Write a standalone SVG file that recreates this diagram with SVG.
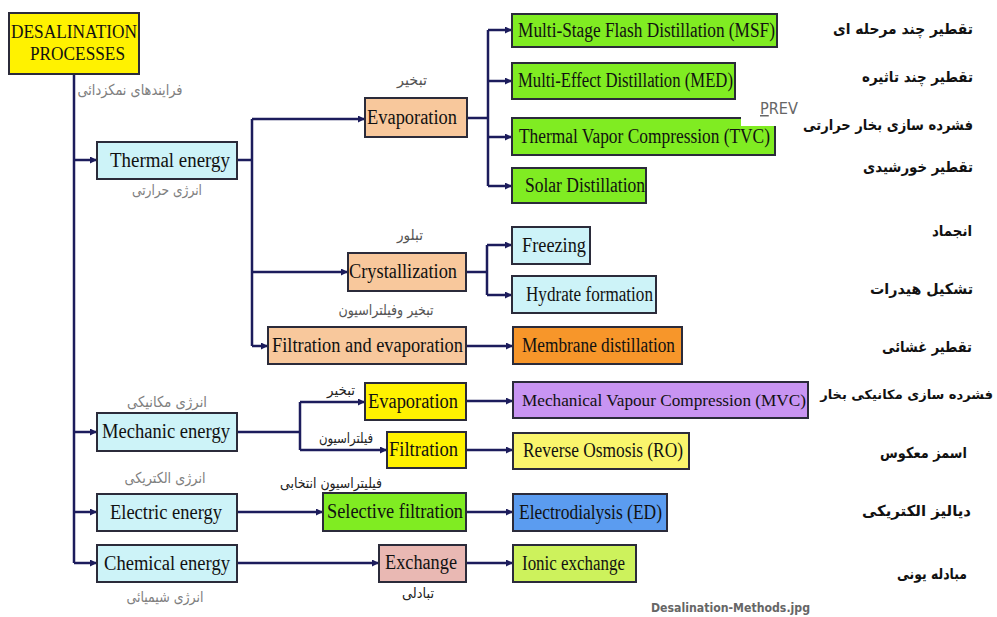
<svg xmlns="http://www.w3.org/2000/svg" width="997" height="617" viewBox="0 0 997 617">
<defs>
<marker id="ah" markerWidth="8" markerHeight="8" refX="7" refY="3.5" orient="auto" markerUnits="userSpaceOnUse">
<path d="M0,0 L7,3.5 L0,7 z" fill="#1c1c5c"/>
</marker>
<style>
.box{stroke:#2b2b3a;stroke-width:2}
.t{font-family:"Liberation Serif","Times New Roman",serif;font-size:20px;fill:#111}
.fa{font-family:"DejaVu Sans",sans-serif;font-size:15px;fill:#808080;text-anchor:middle}
.fb{font-family:"DejaVu Sans",sans-serif;font-size:14px;fill:#222;text-anchor:middle}
.fr{font-family:"DejaVu Sans",sans-serif;font-size:15px;font-weight:bold;fill:#111;text-anchor:end}
.c{fill:none;stroke:#1c1c5c;stroke-width:2.5}
.a{marker-end:url(#ah)}
.cyan{fill:#cdf3f8}.peach{fill:#f8c89c}.green{fill:#80ec22}.yel{fill:#fff200}
</style>
</defs>
<rect width="997" height="617" fill="#fff"/>

<g id="connectors">
<path class="c" d="M74,74 V563"/>
<path class="c a" d="M74,160 H97"/>
<path class="c a" d="M74,432 H97"/>
<path class="c a" d="M74,512 H97"/>
<path class="c a" d="M74,563 H97"/>
<path class="c" d="M237,160 H252 M252,119 V346"/>
<path class="c a" d="M252,119 H365"/>
<path class="c a" d="M252,272 H348"/>
<path class="c a" d="M252,346 H268"/>
<path class="c" d="M467,118 H488 M488,30 V186"/>
<path class="c a" d="M488,30 H512"/>
<path class="c a" d="M488,81 H512"/>
<path class="c a" d="M488,137 H512"/>
<path class="c a" d="M488,186 H512"/>
<path class="c" d="M466,272 H487 M487,245 V295"/>
<path class="c a" d="M487,245 H512"/>
<path class="c a" d="M487,295 H512"/>
<path class="c a" d="M466,346 H513"/>
<path class="c" d="M237,432 H300 M300,402 V450"/>
<path class="c a" d="M300,402 H365"/>
<path class="c a" d="M300,450 H387"/>
<path class="c a" d="M466,401 H513"/>
<path class="c a" d="M466,450 H513"/>
<path class="c a" d="M237,512 H323"/>
<path class="c a" d="M466,512 H513"/>
<path class="c a" d="M237,563 H379"/>
<path class="c a" d="M466,563 H513"/>
</g>

<g id="desal">
<rect class="box yel" x="9" y="13" width="130" height="61"/>
<text class="t" x="11" y="38" textLength="126" lengthAdjust="spacingAndGlyphs" style="font-size:19px">DESALINATION</text>
<text class="t" x="30" y="60" textLength="95" lengthAdjust="spacingAndGlyphs" style="font-size:19px">PROCESSES</text>
<text class="fa" x="130" y="95" textLength="105" lengthAdjust="spacingAndGlyphs">فرایندهای نمکزدائی</text>
</g>

<g id="thermal">
<rect class="box cyan" x="97" y="142" width="140" height="37"/>
<text class="t" x="110" y="167" textLength="120" lengthAdjust="spacingAndGlyphs">Thermal energy</text>
<text class="fa" x="167" y="195" textLength="70" lengthAdjust="spacingAndGlyphs">انرژی حرارتی</text>
</g>

<g id="evap1">
<rect class="box peach" x="365" y="98" width="102" height="39"/>
<text class="t" x="367" y="124" textLength="90" lengthAdjust="spacingAndGlyphs">Evaporation</text>
<text class="fa" x="412" y="85" textLength="30" lengthAdjust="spacingAndGlyphs" style="fill:#555">تبخیر</text>
</g>

<g id="msf">
<rect class="box green" x="512" y="14" width="265" height="33"/>
<text class="t" x="518" y="37" textLength="257" lengthAdjust="spacingAndGlyphs">Multi-Stage Flash Distillation (MSF)</text>
</g>
<g id="med">
<rect class="box green" x="512" y="63" width="223" height="36"/>
<text class="t" x="518" y="87" textLength="215" lengthAdjust="spacingAndGlyphs">Multi-Effect Distillation (MED)</text>
</g>
<g id="tvc">
<rect class="box green" x="512" y="118" width="263" height="37"/>
<rect x="741" y="113" width="40" height="13" fill="#fff"/>
<text class="t" x="519" y="143" textLength="251" lengthAdjust="spacingAndGlyphs">Thermal Vapor Compression (TVC)</text>
</g>
<g id="solar">
<rect class="box green" x="512" y="168" width="134" height="35"/>
<text class="t" x="525" y="192" textLength="120" lengthAdjust="spacingAndGlyphs">Solar Distillation</text>
</g>

<g id="cryst">
<rect class="box peach" x="348" y="253" width="118" height="38"/>
<text class="t" x="349" y="278" textLength="108" lengthAdjust="spacingAndGlyphs">Crystallization</text>
<text class="fa" x="410" y="240" textLength="26" lengthAdjust="spacingAndGlyphs" style="fill:#555">تبلور</text>
</g>
<g id="freezing">
<rect class="box cyan" x="512" y="227" width="78" height="37"/>
<text class="t" x="522" y="252" textLength="64" lengthAdjust="spacingAndGlyphs">Freezing</text>
</g>
<g id="hydrate">
<rect class="box cyan" x="512" y="276" width="144" height="37"/>
<text class="t" x="526" y="301" textLength="127" lengthAdjust="spacingAndGlyphs">Hydrate formation</text>
</g>

<g id="filtevap">
<rect class="box peach" x="268" y="327" width="198" height="37"/>
<text class="t" x="272" y="352" textLength="191" lengthAdjust="spacingAndGlyphs">Filtration and evaporation</text>
<text class="fa" x="386" y="315" textLength="95" lengthAdjust="spacingAndGlyphs" style="fill:#555">تبخیر وفیلتراسیون</text>
</g>
<g id="membrane">
<rect class="box" x="513" y="327" width="169" height="37" fill="#f7962a"/>
<text class="t" x="522" y="352" textLength="153" lengthAdjust="spacingAndGlyphs">Membrane distillation</text>
</g>

<g id="mechanic">
<rect class="box cyan" x="97" y="413" width="140" height="38"/>
<text class="t" x="102" y="438" textLength="128" lengthAdjust="spacingAndGlyphs">Mechanic energy</text>
<text class="fa" x="167" y="407" textLength="80" lengthAdjust="spacingAndGlyphs">انرژی مکانیکی</text>
</g>
<g id="evap2">
<rect class="box yel" x="365" y="383" width="101" height="37"/>
<text class="t" x="368" y="408" textLength="90" lengthAdjust="spacingAndGlyphs">Evaporation</text>
<text class="fb" x="341" y="395" textLength="28" lengthAdjust="spacingAndGlyphs">تبخیر</text>
</g>
<g id="filt2">
<rect class="box yel" x="387" y="432" width="79" height="36"/>
<text class="t" x="389" y="456" textLength="69" lengthAdjust="spacingAndGlyphs">Filtration</text>
<text class="fb" x="346" y="443" textLength="54" lengthAdjust="spacingAndGlyphs">فیلتراسیون</text>
</g>
<g id="mvc">
<rect class="box" x="513" y="382" width="295" height="36" fill="#c894f2"/>
<text class="t" x="522" y="406" textLength="284" lengthAdjust="spacingAndGlyphs" style="font-size:17.5px">Mechanical Vapour Compression (MVC)</text>
</g>
<g id="ro">
<rect class="box" x="513" y="433" width="176" height="36" fill="#faf56c"/>
<text class="t" x="523" y="457" textLength="160" lengthAdjust="spacingAndGlyphs">Reverse Osmosis (RO)</text>
</g>

<g id="electric">
<rect class="box cyan" x="97" y="494" width="140" height="37"/>
<text class="t" x="110" y="519" textLength="112" lengthAdjust="spacingAndGlyphs">Electric energy</text>
<text class="fa" x="165" y="483" textLength="81" lengthAdjust="spacingAndGlyphs">انرژی الکتریکی</text>
</g>
<g id="selective">
<rect class="box green" x="323" y="493" width="143" height="38"/>
<text class="t" x="327" y="518" textLength="136" lengthAdjust="spacingAndGlyphs">Selective filtration</text>
<text class="fb" x="331" y="488" textLength="102" lengthAdjust="spacingAndGlyphs">فیلیتراسیون انتخابی</text>
</g>
<g id="ed">
<rect class="box" x="513" y="494" width="154" height="37" fill="#5b9cf0"/>
<text class="t" x="519" y="519" textLength="143" lengthAdjust="spacingAndGlyphs">Electrodialysis (ED)</text>
</g>

<g id="chemical">
<rect class="box cyan" x="97" y="545" width="140" height="37"/>
<text class="t" x="104" y="570" textLength="126" lengthAdjust="spacingAndGlyphs">Chemical energy</text>
<text class="fa" x="165" y="602" textLength="77" lengthAdjust="spacingAndGlyphs">انرژی شیمیائی</text>
</g>
<g id="exchange">
<rect class="box" x="379" y="545" width="87" height="37" fill="#e9b8b3"/>
<text class="t" x="385" y="569" textLength="72" lengthAdjust="spacingAndGlyphs">Exchange</text>
<text class="fb" x="418" y="598" textLength="32" lengthAdjust="spacingAndGlyphs">تبادلی</text>
</g>
<g id="ionic">
<rect class="box" x="513" y="545" width="123" height="37" fill="#cdf25c"/>
<text class="t" x="522" y="570" textLength="103" lengthAdjust="spacingAndGlyphs">Ionic exchange</text>
</g>

<g id="labels">
<text class="fr" x="973" y="34" textLength="140" lengthAdjust="spacingAndGlyphs">تقطیر چند مرحله ای</text>
<text class="fr" x="973" y="82" textLength="111" lengthAdjust="spacingAndGlyphs">تقطیر چند تاثیره</text>
<text class="fr" x="973" y="130" textLength="170" lengthAdjust="spacingAndGlyphs">فشرده سازی بخار حرارتی</text>
<text class="fr" x="973" y="172" textLength="110" lengthAdjust="spacingAndGlyphs">تقطیر خورشیدی</text>
<text class="fr" x="972" y="236" textLength="40" lengthAdjust="spacingAndGlyphs">انجماد</text>
<text class="fr" x="973" y="294" textLength="103" lengthAdjust="spacingAndGlyphs">تشکیل هیدرات</text>
<text class="fr" x="972" y="352" textLength="90" lengthAdjust="spacingAndGlyphs">تقطیر غشائی</text>
<text class="fr" x="993" y="399" style="font-size:13px">فشرده سازی مکانیکی بخار</text>
<text class="fr" x="967" y="458" textLength="87" lengthAdjust="spacingAndGlyphs">اسمز معکوس</text>
<text class="fr" x="971" y="516" textLength="109" lengthAdjust="spacingAndGlyphs">دیالیز الکتریکی</text>
<text class="fr" x="967" y="579" textLength="70" lengthAdjust="spacingAndGlyphs">مبادله یونی</text>
<text x="760" y="114" style="font-family:'DejaVu Sans',sans-serif;font-size:15px;fill:#666" textLength="38" lengthAdjust="spacingAndGlyphs"><tspan text-decoration="underline">P</tspan>REV</text>
<text x="651" y="612" style="font-family:'DejaVu Sans',sans-serif;font-size:12px;font-weight:bold;fill:#666" textLength="159" lengthAdjust="spacingAndGlyphs">Desalination-Methods.jpg</text>
</g>
</svg>
